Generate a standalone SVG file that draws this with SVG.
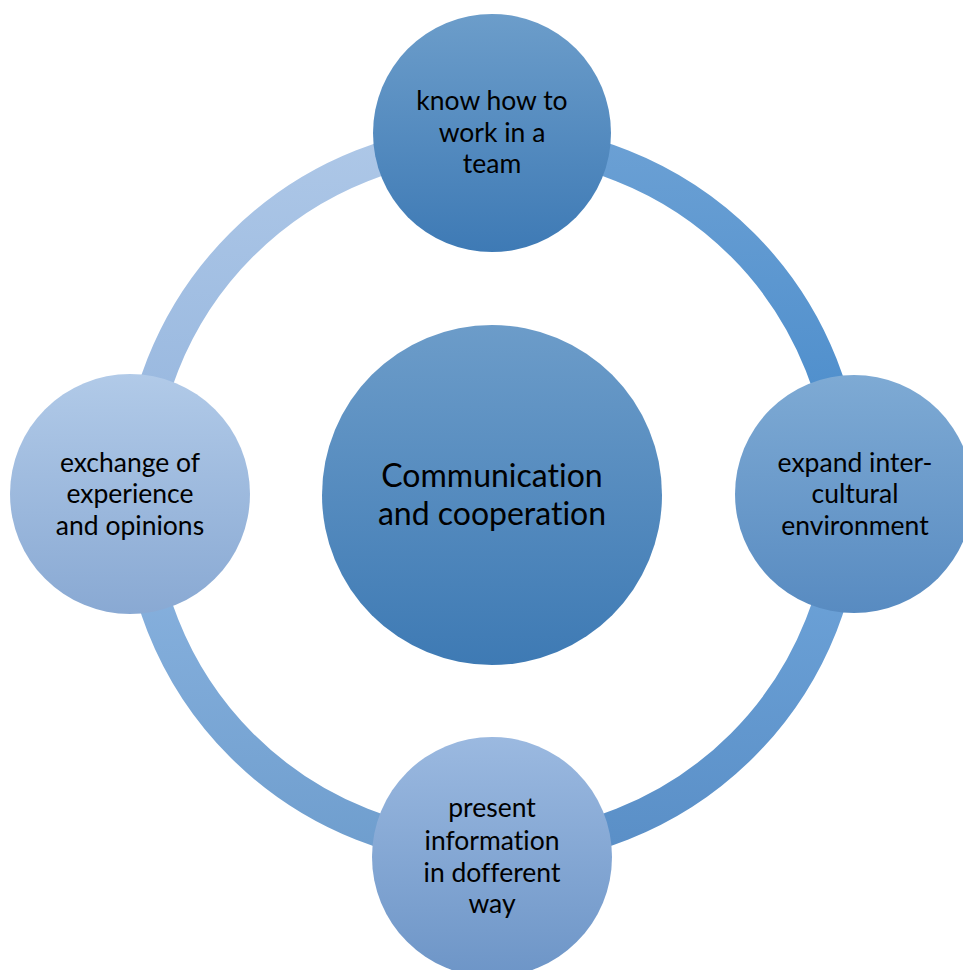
<svg xmlns="http://www.w3.org/2000/svg" width="963" height="970" viewBox="0 0 963 970">
<defs>
<linearGradient id="gTL" x1="0" y1="0" x2="0" y2="1"><stop offset="0" stop-color="#adc7e7"/><stop offset="1" stop-color="#93b4dd"/></linearGradient>
<linearGradient id="gTR" x1="0" y1="0" x2="0" y2="1"><stop offset="0" stop-color="#6ba0d4"/><stop offset="1" stop-color="#4589ca"/></linearGradient>
<linearGradient id="gBR" x1="0" y1="0" x2="0" y2="1"><stop offset="0" stop-color="#71a7dc"/><stop offset="1" stop-color="#5a8fc7"/></linearGradient>
<linearGradient id="gBL" x1="0" y1="0" x2="0" y2="1"><stop offset="0" stop-color="#8eb6e2"/><stop offset="1" stop-color="#6f9ece"/></linearGradient>
<linearGradient id="cC" x1="0" y1="0" x2="0" y2="1"><stop offset="0" stop-color="#6c9cc9"/><stop offset="1" stop-color="#3e7ab4"/></linearGradient>
<linearGradient id="cT" x1="0" y1="0" x2="0" y2="1"><stop offset="0" stop-color="#6c9dca"/><stop offset="1" stop-color="#3e7ab5"/></linearGradient>
<linearGradient id="cR" x1="0" y1="0" x2="0" y2="1"><stop offset="0" stop-color="#7eaad4"/><stop offset="1" stop-color="#588bc1"/></linearGradient>
<linearGradient id="cB" x1="0" y1="0" x2="0" y2="1"><stop offset="0" stop-color="#9bb9e0"/><stop offset="1" stop-color="#6d95c7"/></linearGradient>
<linearGradient id="cL" x1="0" y1="0" x2="0" y2="1"><stop offset="0" stop-color="#b1cae8"/><stop offset="1" stop-color="#89a9d3"/></linearGradient>
</defs>
<style>
.ring{fill:none;stroke-width:33}
.lbl{font-family:Lato,"Noto Sans","Liberation Sans",sans-serif;font-size:26.5px;fill:#000;text-anchor:middle;font-variant-ligatures:none}
.big{font-size:32px}
</style>
<g id="connectors">
<path class="ring" stroke="url(#gTL)" d="M138,495 A354,354 0 0 1 492,141"/>
<path class="ring" stroke="url(#gTR)" d="M492,141 A354,354 0 0 1 846,495"/>
<path class="ring" stroke="url(#gBR)" d="M846,495 A354,354 0 0 1 492,849"/>
<path class="ring" stroke="url(#gBL)" d="M492,849 A354,354 0 0 1 138,495"/>
</g>
<g id="center">
<circle cx="492" cy="495" r="170" fill="url(#cC)"/>
<text class="lbl big" x="492" y="487">Communication</text>
<text class="lbl big" x="492" y="525">and cooperation</text>
</g>
<g id="top">
<circle cx="492" cy="133" r="119" fill="url(#cT)"/>
<text class="lbl" x="492" y="110">know how to</text>
<text class="lbl" x="492" y="142">work in a</text>
<text class="lbl" x="492" y="173">team</text>
</g>
<g id="right">
<circle cx="854" cy="494" r="119" fill="url(#cR)"/>
<text class="lbl" x="855" y="472">expand inter-</text>
<text class="lbl" x="855" y="503">cultural</text>
<text class="lbl" x="855" y="535">environment</text>
</g>
<g id="bottom">
<circle cx="492" cy="857" r="120" fill="url(#cB)"/>
<text class="lbl" x="492" y="817">present</text>
<text class="lbl" x="492" y="850">information</text>
<text class="lbl" x="492" y="882">in dofferent</text>
<text class="lbl" x="492" y="913">way</text>
</g>
<g id="left">
<circle cx="130" cy="494" r="120" fill="url(#cL)"/>
<text class="lbl" x="130" y="472">exchange of</text>
<text class="lbl" x="130" y="503">experience</text>
<text class="lbl" x="130" y="535">and opinions</text>
</g>
</svg>
